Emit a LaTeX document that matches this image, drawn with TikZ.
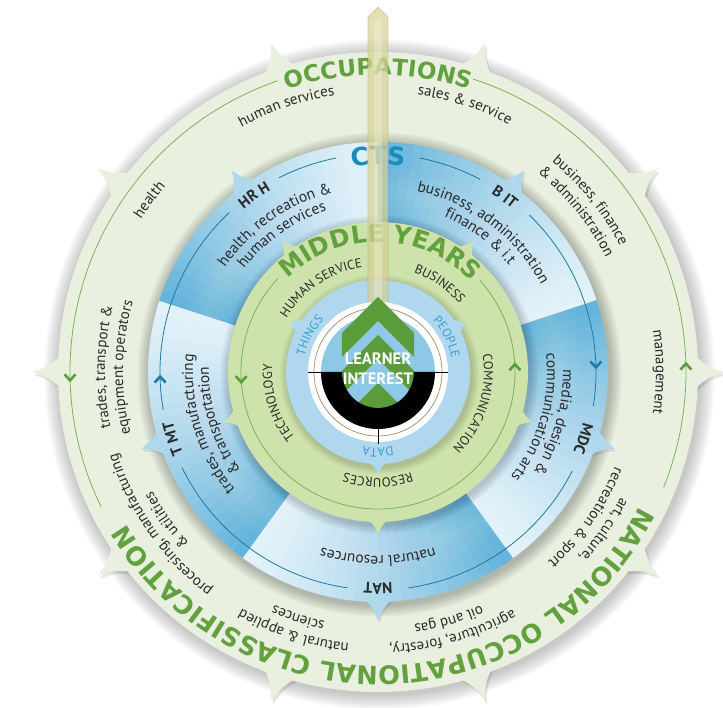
\documentclass[tikz,border=0pt]{standalone}
\usepackage{fontspec}
\setmainfont{PT Sans}
\newfontfamily\ttlfont{DejaVu Sans}
\usetikzlibrary{decorations.text}
\definecolor{ringgreen}{HTML}{E9F0E0}
\definecolor{linegreen}{HTML}{7CB257}
\definecolor{tgreen}{HTML}{63A03E}
\definecolor{bluedark}{HTML}{62B2DA}
\definecolor{bluelight}{HTML}{E4F2F9}
\definecolor{blueline}{HTML}{1C7BA6}
\definecolor{ctsblue}{HTML}{1B8BBD}
\definecolor{midgreen}{HTML}{CEE3AC}
\definecolor{innerblue}{HTML}{AFD8EE}
\definecolor{coreblue}{HTML}{8DC8E6}
\definecolor{thingblue}{HTML}{3A9ED2}
\definecolor{chevgreen}{HTML}{5A9B3A}
\definecolor{pillarcol}{HTML}{D6D295}
\definecolor{txt}{HTML}{2A2A2A}
\definecolor{tanline}{HTML}{9A8F6A}
\newcommand\fmtO{\color{txt}\fontsize{15}{15}\selectfont}
\newcommand\fmtB{\color{txt}\fontsize{15.5}{15.5}\selectfont}
\newcommand\fmtL{\color{txt}\bfseries\fontsize{15.5}{15.5}\selectfont}
\newcommand\fmtG{\color{txt}\fontsize{13}{13}\selectfont}
\newcommand\fmtI{\color{thingblue}\fontsize{12.5}{12.5}\selectfont}
\newcommand\fmtT{\color{tgreen}\ttlfont\bfseries\fontsize{23}{23}\selectfont}
\newcommand\fmtM{\color{tgreen}\ttlfont\bfseries\fontsize{24.5}{24.5}\selectfont}
\newcommand\fmtN{\color{tgreen}\ttlfont\bfseries\fontsize{25.5}{25.5}\selectfont}
\newcommand\fmtC{\color{ctsblue}\ttlfont\bfseries\fontsize{25}{25}\selectfont}
% radius, centre angle, half span, format, text (clockwise path: tops outward)
\newcommand\arctxt[5]{\path[decorate,decoration={text along path,text align=center,text={|#4|#5}}] ({#2+#3}:#1) arc[start angle={#2+#3},end angle={#2-#3},radius=#1];}
% style, angle, R, height, half-angle
\newcommand\spike[5]{\fill[#1] ({#2-#5}:{#3-3}) .. controls ({#2-#5*0.3}:{#3+#4*0.4}) .. ({#2}:{#3+#4}) .. controls ({#2+#5*0.3}:{#3+#4*0.4}) .. ({#2+#5}:{#3-3}) -- cycle;}
\newcommand\softshadow[3]{\foreach \i in {1,...,#2} {\fill[black,opacity=#3] (1.5,-2.5) circle ({#1+\i*1.5});}}
\newcommand\chevmark[4]{\begin{scope}[shift={(#1:#2)}]\draw[#3,line width=2.6,line join=miter] (-5.5,{3*#4}) -- (0,{-3*#4}) -- (5.5,{3*#4});\end{scope}}
\begin{document}
\begin{tikzpicture}[x=1pt,y=1pt]
\useasboundingbox (-378,-336) rectangle (345,372);
% ---------- outer ring ----------
\softshadow{320}{10}{0.022}
\foreach \a in {0,36,...,324} {\spike{black,opacity=0.10,shift={(2,-3)}}{\a}{320}{26}{3}}
\fill[ringgreen] (0,0) circle (320);
\foreach \a in {0,36,...,324} {\spike{ringgreen}{\a}{320}{26}{3}}
\draw[linegreen,line width=0.8] (-22:308) arc[start angle=-22,end angle=72,radius=308];
\draw[linegreen,line width=0.8] (109:308) arc[start angle=109,end angle=206,radius=308];
\chevmark{181}{308}{chevgreen}{1}
\chevmark{1}{308}{chevgreen}{-1}
\arctxt{297}{90}{40}{\fmtT}{OCCUPATIONS}
\arctxt{294}{-88}{80}{\fmtN}{NATIONAL OCCUPATIONAL CLASSIFICATION}
\arctxt{280}{109}{30}{\fmtO}{human services}
\arctxt{280}{72}{30}{\fmtO}{sales {\&} service}
\arctxt{282}{143}{20}{\fmtO}{health}
\arctxt{278}{0}{25}{\fmtO}{management}
\arctxt{273}{179}{32}{\fmtO}{trades, transport {\&}}
\arctxt{255}{179}{34}{\fmtO}{equipment operators}
\arctxt{273}{39}{32}{\fmtO}{business, finance}
\arctxt{255}{39}{34}{\fmtO}{{\&} administration}
\arctxt{273}{-35}{32}{\fmtO}{art, culture,}
\arctxt{255}{-35}{34}{\fmtO}{recreation {\&} sport}
\arctxt{273}{-74}{32}{\fmtO}{agriculture, forestry,}
\arctxt{255}{-74}{34}{\fmtO}{oil and gas}
\arctxt{273}{-108}{32}{\fmtO}{natural {\&} applied}
\arctxt{255}{-108}{34}{\fmtO}{sciences}
\arctxt{273}{-145}{32}{\fmtO}{processing, manufacturing}
\arctxt{255}{-145}{34}{\fmtO}{{\&} utilities}
% ---------- CTS ring ----------
\softshadow{230}{8}{0.03}
\foreach \a in {126,54,-18,-90,198} {\spike{black,opacity=0.08,shift={(1.5,-2.5)}}{\a}{230}{19}{3.5}}
\foreach \a in {126,54,-18,-90,198} {\spike{bluedark!40!bluelight}{\a}{230}{19}{3.5}}
\foreach \s in {18,90,162,234,306} {
  \foreach \k in {0,...,23} {
    \pgfmathsetmacro\sa{\s+\k*3}
    \pgfmathsetmacro\mixv{100*((\k+0.5)/24)^1.3}
    \fill[bluedark!\mixv!bluelight] (0,0) -- (\sa:230) arc[start angle=\sa,end angle=\sa+3.2,radius=230] -- cycle;
  }
}
\foreach \i in {0,...,7} {
  \fill[white,opacity=0.02,even odd rule] (0,0) circle ({205-\i*3}) (0,0) circle ({155+\i*3});
}
\foreach \p/\q in {-9/46,62/79,101/117,133/190,206/262,278/333} {
  \draw[blueline,line width=0.8] (\p:218) arc[start angle=\p,end angle=\q,radius=218];
}
\chevmark{182}{218}{blueline}{-1}
\chevmark{2}{218}{blueline}{1}
\arctxt{207}{90}{15}{\fmtC}{CTS}
\arctxt{211}{125}{10}{\fmtL}{HR H}
\arctxt{211}{54}{10}{\fmtL}{B IT}
\arctxt{211}{198}{10}{\fmtL}{T MT}
\arctxt{211}{-18}{10}{\fmtL}{MDC}
\arctxt{211}{-90}{10}{\fmtL}{NAT}
\arctxt{185}{125}{32}{\fmtB}{health, recreation {\&}}
\arctxt{169}{125}{32}{\fmtB}{human services}
\arctxt{185}{53}{38}{\fmtB}{business, administration}
\arctxt{169}{53}{32}{\fmtB}{finance {\&} i.t}
\arctxt{185}{197}{32}{\fmtB}{trades, manufacturing}
\arctxt{169}{197}{32}{\fmtB}{{\&} transportation}
\arctxt{185}{-16}{32}{\fmtB}{media, design {\&}}
\arctxt{169}{-16}{32}{\fmtB}{communication arts}
\arctxt{184}{-90}{32}{\fmtB}{natural resources}
% ---------- Middle years ring ----------
\softshadow{150}{6}{0.03}
\foreach \a in {126,54,-18,-90,198} {\spike{midgreen}{\a}{150}{12}{4}}
\fill[midgreen] (0,0) circle (150);
\draw[linegreen,line width=0.8] (137:137) arc[start angle=137,end angle=402,radius=137];
\chevmark{183}{137}{chevgreen}{1}
\chevmark{2}{137}{chevgreen}{-1}
\arctxt{130}{89}{58}{\fmtM}{MIDDLE YEARS}
\arctxt{106}{124}{40}{\fmtG}{HUMAN SERVICE}
\arctxt{106}{55}{35}{\fmtG}{BUSINESS}
\arctxt{106}{-18}{40}{\fmtG}{COMMUNICATION}
\arctxt{106}{-90}{35}{\fmtG}{RESOURCES}
\arctxt{106}{197}{40}{\fmtG}{TECHNOLOGY}
% ---------- inner disk ----------
\softshadow{92}{5}{0.03}
\foreach \a in {150,30,-90} {\spike{innerblue}{\a}{92}{10}{6}}
\fill[innerblue] (0,0) circle (92);
\arctxt{75}{152}{30}{\fmtI}{THINGS}
\arctxt{75}{27}{30}{\fmtI}{PEOPLE}
\arctxt{76}{-90}{30}{\fmtI}{DATA}
% ---------- pillar ----------
\fill[pillarcol,opacity=0.72] (-10,66) -- (-10,355) -- (0,365) -- (10,355) -- (10,66) -- cycle;
\fill[white,opacity=0.25] (-4,66) rectangle (4,352);
\draw[pillarcol!70!black,opacity=0.35,line width=0.6] (-10,66) -- (-10,355) -- (0,365) -- (10,355) -- (10,66);
% ---------- centre ----------
\fill[white] (0,0) circle (70);
\draw[tanline,line width=0.7] (0,0) circle (64);
\fill[coreblue] (0,0) circle (57);
\begin{scope}
\clip (0,0) circle (57);
\fill[chevgreen] (0,37) -- (36,1) -- (36,-23) -- (0,13) -- (-36,-23) -- (-36,1) -- cycle;
\fill[chevgreen] (0,-11) -- (36,-47) -- (36,-71) -- (0,-35) -- (-36,-71) -- (-36,-47) -- cycle;
\end{scope}
\fill[black] (-57,0) arc[start angle=180,end angle=360,radius=57] -- (36,0) arc[start angle=0,end angle=-180,radius=36] -- cycle;
\draw[black,line width=0.9] (-70,0) -- (-57,0) (57,0) -- (70,0) (0,-57) -- (0,-72);
\fill[chevgreen] (0,75) -- (36,39) -- (36,15) -- (0,51) -- (-36,15) -- (-36,39) -- cycle;
\node[text=white,font=\bfseries\fontsize{16.5}{16.5}\selectfont] (learner) at (0,13) {LEARNER};
\node[text=white,font=\bfseries\fontsize{16.5}{16.5}\selectfont] (interest) at (0,-7) {INTEREST};
\end{tikzpicture}
\end{document}
